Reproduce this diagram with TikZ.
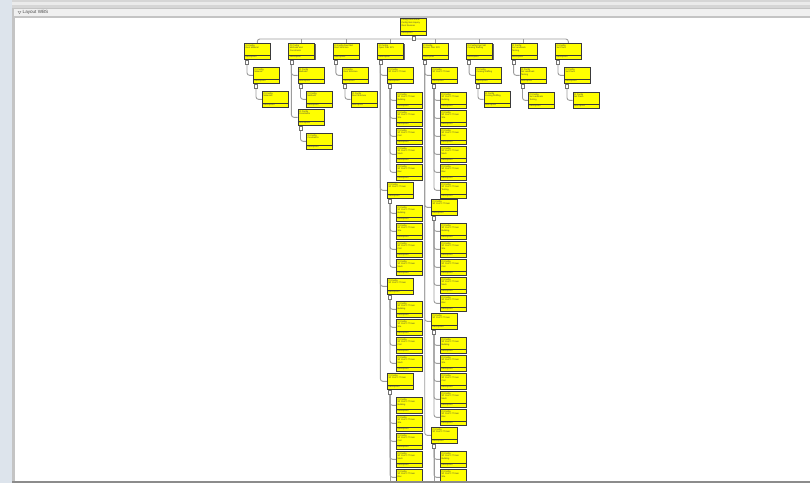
\documentclass[tikz,border=0pt]{standalone}
\usepackage{fontspec}
\setmainfont{Liberation Sans}
\setsansfont{Liberation Sans}
\usetikzlibrary{shadows,calc}
\definecolor{wbsyellow}{HTML}{FFFF00}
\definecolor{wbsborder}{HTML}{3A3A3A}
\definecolor{conncol}{HTML}{9C9C9C}
\definecolor{outerbg}{HTML}{DDE4EC}
\definecolor{topbar}{HTML}{D6D6D6}
\definecolor{headbar}{HTML}{F0F0F0}
\definecolor{frame}{HTML}{C4C4C4}
\pgfdeclarelayer{chrome}
\pgfdeclarelayer{conns}
\pgfsetlayers{chrome,conns,main}
\tikzset{
  wbsbox/.style={draw=wbsborder, line width=0.6pt, fill=wbsyellow,
    minimum width=26pt, minimum height=16pt, inner sep=0pt, anchor=north west,
    drop shadow={shadow xshift=1.1pt, shadow yshift=-1.1pt, fill=black!60, opacity=1},
    path picture={\draw[wbsborder, line width=0.35pt]
      ([yshift=4.4pt]path picture bounding box.south west) --
      ([yshift=4.4pt]path picture bounding box.south east);}},
  wbstxt/.style={font=\fontsize{2.2pt}{2.6pt}\selectfont, text=black!75, inner sep=0pt, align=left},
  xpbox/.style={draw=black!55, fill=white, line width=0.4pt, minimum width=3pt,
    minimum height=3.6pt, inner sep=0pt, anchor=north},
  conn/.style={draw=conncol, line width=0.9pt, rounded corners=2.5pt},
}
\newcommand{\wbsn}[4]{%
  \node[wbsbox] (#1) at (#2,#3) {};
  \node[wbstxt, anchor=north west] (#1t) at ([xshift=1.3pt,yshift=-1.3pt]#1.north west) {#4};
  \node[wbstxt, anchor=south west] (#1d) at ([xshift=1.3pt,yshift=1.1pt]#1.south west) {Description};
}
\newcommand{\wbsx}[1]{%
  \node[xpbox] (#1x) at ([xshift=3pt,yshift=-0.8pt]#1.south west) {};
}
\begin{document}
\begin{tikzpicture}[x=1pt,y=-1pt]
\useasboundingbox (0,0) rectangle (810,483);
% ---------- window chrome ----------
\begin{pgfonlayer}{chrome}
  \fill[outerbg] (0,0) rectangle (810,483);
  \fill[topbar] (12,0) rectangle (810,8);
  \fill[black!8] (12,2) rectangle (810,4.5);
  \fill[frame] (12,8) rectangle (810,483);
  \fill[headbar] (14,8.8) rectangle (810,16.3);
  \fill[white] (15,17.5) rectangle (810,480.5);
  \fill[black!45] (12,480.5) rectangle (810,483);
  \draw[black!45, line width=0.4pt] (18,11.2) -- (21,11.2) -- (19.5,13.8) -- cycle;
  \node[font=\fontsize{4.6pt}{5pt}\selectfont, text=black!70, anchor=west, inner sep=0pt] (title) at (22.5,12.6) {Layout WBS};
\end{pgfonlayer}
\coordinate (bottom) at (0,486);
\begin{scope}
\clip (15,17.5) rectangle (810,480.5);
% ---------- root ----------
\node[wbsbox, minimum height=17pt] (root) at (400,18) {};
\node[wbstxt, anchor=north west] (roott) at ([xshift=1.3pt,yshift=-1.2pt]root.north west) {Config Root Name\\Config Item Inquiry\\Root Revision};
\node[wbstxt, anchor=south west] (rootd) at ([xshift=1.3pt,yshift=1.1pt]root.south west) {Description};
\node[xpbox] (rootx) at ([yshift=-0.6pt]root.south) {};
% ---------- level 1 ----------
\wbsn{c1}{244}{43}{CI Config\\Root Material}
\wbsn{c2}{288.4}{43}{CI Config\\Methods and\\Constraints}
\wbsn{c3}{332.9}{43}{CI Config Root Mkt\\Root Structure}
\wbsn{c4}{377.3}{43}{CI Config\\Open Plan SP1}
\wbsn{c5}{421.7}{43}{CI Config\\Sensor Plan SP2}
\wbsn{c6}{466.1}{43}{CI Config Cost Mkt\\Coming Staffing}
\wbsn{c7}{510.6}{43}{CI Config\\Sel Landmark\\Testing}
\wbsn{c8}{555}{43}{CI Config\\Set Plans}
\foreach \i in {1,...,8} {\wbsx{c\i}}
% ---------- column 1 ----------
\wbsn{a2}{253}{67}{CI Config\\Material}
\wbsx{a2}
\wbsn{a3}{262}{91}{CI Config\\Materials}
% ---------- column 2 ----------
\wbsn{b2}{297.5}{67}{CI Config\\Methods}
\wbsx{b2}
\wbsn{b3}{306}{91}{CI Config\\Methods}
\wbsn{b4}{297.5}{109}{CI Config\\Constraints}
\wbsx{b4}
\wbsn{b5}{306}{133}{CI Config\\Constraints}
% ---------- column 3 ----------
\wbsn{g2}{342}{67}{CI Config\\Root Structure}
\wbsx{g2}
\wbsn{g3}{350.5}{91}{CI Config\\Root Structure}
% ---------- column 4 ----------
\wbsn{d1}{387}{67}{CI Config\\SP Cost I-77 Item}
\wbsn{d2}{387}{182}{CI Config\\SP Cost I-77 Item}
\wbsn{d3}{387}{278}{CI Config\\SP Cost I-77 Item}
\wbsn{d4}{387}{373}{CI Config\\SP Cost I-77 Item}
\foreach \i in {1,...,4} {\wbsx{d\i}}
\foreach \y/\w [count=\k] in {92/Building,110/Site,128/Civil,146/Mech,164/Elec} {\wbsn{d1c\k}{396}{\y}{CI Config\\SP Cost I-77 Item\\\w}}
\foreach \y/\w [count=\k] in {205/Building,223/Site,241/Civil,259/Mech} {\wbsn{d2c\k}{396}{\y}{CI Config\\SP Cost I-77 Item\\\w}}
\foreach \y/\w [count=\k] in {301/Building,319/Site,337/Civil,355/Mech} {\wbsn{d3c\k}{396}{\y}{CI Config\\SP Cost I-77 Item\\\w}}
\foreach \y/\w [count=\k] in {397/Building,415/Site,433/Civil,451/Mech,469/Elec} {\wbsn{d4c\k}{396}{\y}{CI Config\\SP Cost I-77 Item\\\w}}
% ---------- column 5 ----------
\wbsn{e1}{431}{67}{CI Config\\SP Cost I-77 Item}
\wbsn{e2}{431}{199}{CI Config\\SP Cost I-77 Item}
\wbsn{e3}{431}{313}{CI Config\\SP Cost I-77 Item}
\wbsn{e4}{431}{427}{CI Config\\SP Cost I-77 Item}
\foreach \i in {1,...,4} {\wbsx{e\i}}
\foreach \y/\w [count=\k] in {92/Building,110/Site,128/Civil,146/Mech,164/Elec,182/Testing} {\wbsn{e1c\k}{440}{\y}{CI Config\\SP Cost I-77 Item\\\w}}
\foreach \y/\w [count=\k] in {223/Building,241/Site,259/Civil,277/Mech,295/Elec} {\wbsn{e2c\k}{440}{\y}{CI Config\\SP Cost I-77 Item\\\w}}
\foreach \y/\w [count=\k] in {337/Building,355/Site,373/Civil,391/Mech,409/Elec} {\wbsn{e3c\k}{440}{\y}{CI Config\\SP Cost I-77 Item\\\w}}
\foreach \y/\w [count=\k] in {451/Building,469/Site} {\wbsn{e4c\k}{440}{\y}{CI Config\\SP Cost I-77 Item\\\w}}
% ---------- column 6 ----------
\wbsn{f2}{475}{67}{CI Config\\Coming Staffing}
\wbsx{f2}
\wbsn{f3}{483.5}{91}{CI Config\\Coming Staffing}
% ---------- column 7 ----------
\wbsn{h2}{519.5}{67}{CI Config\\Sel Landmark\\Testing}
\wbsx{h2}
\wbsn{h3}{528}{92}{CI Config\\Sel Landmark\\Testing}
% ---------- column 8 ----------
\wbsn{k2}{564}{67}{CI Config\\Set Plans}
\wbsx{k2}
\wbsn{k3}{572.5}{92}{CI Config\\Set Plans}
\end{scope}
% ---------- connectors ----------
\begin{pgfonlayer}{conns}
\clip (15,17.5) rectangle (810,480.5);
\coordinate (bus) at (413,39);
\draw[conn] (rootx.south) -- (rootx.south |- bus);
\draw[conn] (c1.north) -- (c1.north |- bus) -- (c8.north |- bus) -- (c8.north);
\foreach \i in {2,...,7} {\draw[conn] (c\i.north) -- (c\i.north |- bus);}
\draw[conn] (c1x.south) |- (a2.west);
\draw[conn] (a2x.south) |- (a3.west);
\draw[conn] (c2x.south) |- (b2.west);
\draw[conn] (c2x.south) |- (b4.west);
\draw[conn] (b2x.south) |- (b3.west);
\draw[conn] (b4x.south) |- (b5.west);
\draw[conn] (c3x.south) |- (g2.west);
\draw[conn] (g2x.south) |- (g3.west);
\foreach \i in {1,...,4} {\draw[conn] (c4x.south) |- (d\i.west);}
\foreach \k in {1,...,5} {\draw[conn] (d1x.south) |- (d1c\k.west);}
\foreach \k in {1,...,4} {\draw[conn] (d2x.south) |- (d2c\k.west);}
\foreach \k in {1,...,4} {\draw[conn] (d3x.south) |- (d3c\k.west);}
\foreach \k in {1,...,5} {\draw[conn] (d4x.south) |- (d4c\k.west);}
\coordinate (d4end) at (d4x.south |- bottom);
\draw[conn] (d4x.south) -- (d4end);
\foreach \i in {1,...,4} {\draw[conn] (c5x.south) |- (e\i.west);}
\foreach \k in {1,...,6} {\draw[conn] (e1x.south) |- (e1c\k.west);}
\foreach \k in {1,...,5} {\draw[conn] (e2x.south) |- (e2c\k.west);}
\foreach \k in {1,...,5} {\draw[conn] (e3x.south) |- (e3c\k.west);}
\foreach \k in {1,2} {\draw[conn] (e4x.south) |- (e4c\k.west);}
\coordinate (e4end) at (e4x.south |- bottom);
\draw[conn] (e4x.south) -- (e4end);
\draw[conn] (c6x.south) |- (f2.west);
\draw[conn] (f2x.south) |- (f3.west);
\draw[conn] (c7x.south) |- (h2.west);
\draw[conn] (h2x.south) |- (h3.west);
\draw[conn] (c8x.south) |- (k2.west);
\draw[conn] (k2x.south) |- (k3.west);
\end{pgfonlayer}
\end{tikzpicture}
\end{document}
